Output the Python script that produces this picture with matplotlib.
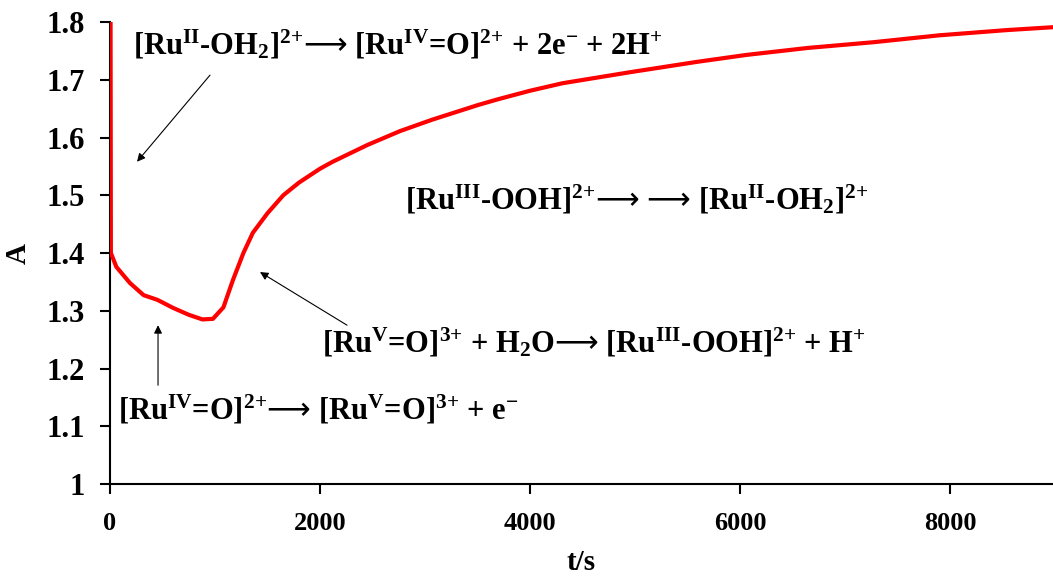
import numpy as np
import matplotlib.pyplot as plt

# Absorbance trace of the Ru aqua complex
t = [5, 8, 60, 190, 320, 450, 600, 750, 880, 980, 1080, 1170, 1270, 1360,
     1500, 1650, 1800, 2000, 2120, 2450, 2760, 3070, 3500, 3690, 4000, 4310,
     4950, 5590, 6060, 6640, 7270, 7900, 8540, 8980]
A = [1.80, 1.40, 1.376, 1.348, 1.327, 1.319, 1.305, 1.293, 1.285, 1.286,
     1.306, 1.353, 1.400, 1.435, 1.469, 1.500, 1.522, 1.546, 1.558, 1.587,
     1.611, 1.631, 1.656, 1.666, 1.681, 1.694, 1.713, 1.731, 1.743, 1.755,
     1.765, 1.777, 1.786, 1.791]

xticks = [0, 2000, 4000, 6000, 8000]
yticks = [1, 1.1, 1.2, 1.3, 1.4, 1.5, 1.6, 1.7, 1.8]
ytick_labels = ['1', '1.1', '1.2', '1.3', '1.4', '1.5', '1.6', '1.7', '1.8']

plt.rcParams['font.family'] = ['Liberation Serif', 'DejaVu Sans']
plt.rcParams['font.weight'] = 'bold'
plt.rcParams['mathtext.fontset'] = 'custom'
plt.rcParams['mathtext.rm'] = 'Liberation Serif:bold'
plt.rcParams['mathtext.bf'] = 'Liberation Serif:bold'
plt.rcParams['mathtext.it'] = 'Liberation Serif:bold:italic'
plt.rcParams['mathtext.sf'] = 'DejaVu Sans:normal'

fig = plt.figure(figsize=(10.53, 5.76), dpi=100)
ax = fig.add_axes([0.1045, 0.1597, 0.8955, 0.8021])

ax.plot(t, A, color='#ff0000', lw=3, solid_joinstyle='round', zorder=3)

ax.set_xlim(0, 8980)
ax.set_ylim(1.0, 1.8)
ax.set_xticks(xticks)
ax.set_yticks(yticks)
ax.set_yticklabels(ytick_labels)
ax.tick_params(axis='y', direction='out', length=7, width=1.5, labelsize=22, pad=11)
ax.tick_params(axis='x', direction='out', length=7, width=1.5, labelsize=19, pad=13)
for lab in ax.get_xticklabels() + ax.get_yticklabels():
    lab.set_fontweight('bold')

for side in ['top', 'right']:
    ax.spines[side].set_visible(False)
for side in ['left', 'bottom']:
    ax.spines[side].set_linewidth(1.5)

ax.set_xlabel('t/s', fontsize=21, fontweight='bold', labelpad=10)
ax.set_ylabel('A', fontsize=21, fontweight='bold', labelpad=11)

fs = 22
arrow = dict(arrowstyle='-|>', color='black', lw=0.8, mutation_scale=12,
             shrinkA=0, shrinkB=0)
to = '$\\mathsf{\u27f6}$'
p = '{+}'

ax.annotate('[Ru$^{\\mathrm{II}}$-OH$_{\\mathrm{2}}$]$^{2' + p + '}$' + to +
            ' [Ru$^{\\mathrm{IV}}$=O]$^{2' + p + '}$ + 2e$^{-}$ + 2H$^{' + p + '}$',
            xy=(219, 1.76), fontsize=fs, va='center', ha='left')
ax.annotate('', xy=(257, 1.558), xytext=(952, 1.708), arrowprops=arrow)

ax.annotate('[Ru$^{\\mathrm{III}}$-OOH]$^{2' + p + '}$' + to + ' ' + to +
            ' [Ru$^{\\mathrm{II}}$-OH$_{\\mathrm{2}}$]$^{2' + p + '}$',
            xy=(2809, 1.492), fontsize=fs, va='center', ha='left')

ax.annotate('[Ru$^{\\mathrm{V}}$=O]$^{3' + p + '}$ + H$_{\\mathrm{2}}$O' + to +
            ' [Ru$^{\\mathrm{III}}$-OOH]$^{2' + p + '}$ + H$^{' + p + '}$',
            xy=(2019, 1.244), fontsize=fs, va='center', ha='left')
ax.annotate('', xy=(1428, 1.367), xytext=(2257, 1.275), arrowprops=arrow)

ax.annotate('[Ru$^{\\mathrm{IV}}$=O]$^{2' + p + '}$' + to +
            ' [Ru$^{\\mathrm{V}}$=O]$^{3' + p + '}$ + e$^{-}$',
            xy=(76, 1.128), fontsize=fs, va='center', ha='left')
ax.annotate('', xy=(457, 1.275), xytext=(457, 1.171), arrowprops=arrow)

fig.savefig('out.png', dpi=100)
